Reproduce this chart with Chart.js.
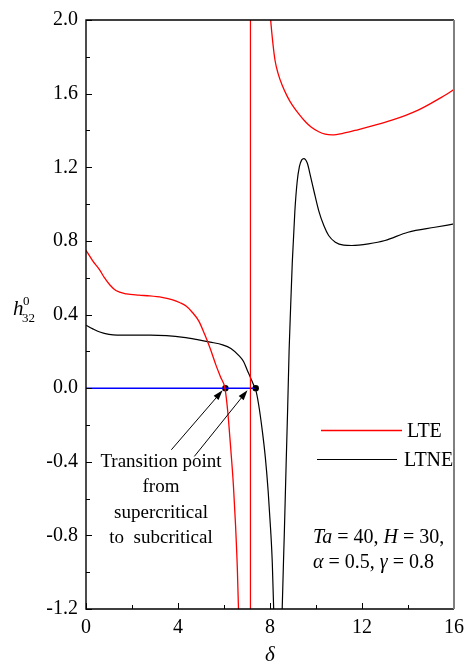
<!DOCTYPE html>
<html>
<head>
<meta charset="utf-8">
<script src="https://cdn.jsdelivr.net/npm/chart.js@4.4.0/dist/chart.umd.min.js"></script>
<style>
    html, body { margin: 0; padding: 0; background: #fff; }
    #wrap { width: 471px; height: 665px; position: relative; }
</style>
</head>
<body>
<div id="wrap"><canvas id="chart"></canvas></div>
<script>
// LTE, branch before the asymptote
const lteLowDelta = [0, 0.3, 0.6, 0.8, 1.04, 1.3, 1.76, 2.3, 2.77, 3.3, 3.77, 4.09, 4.35, 4.6, 4.9, 5.15, 5.4, 5.65, 5.85, 6.04, 6.12, 6.2, 6.3, 6.41, 6.5, 6.58, 6.63, 6.68];
const lteLowH = [0.749, 0.69, 0.641, 0.6, 0.56, 0.53, 0.512, 0.505, 0.501, 0.493, 0.48, 0.464, 0.446, 0.415, 0.365, 0.295, 0.215, 0.125, 0.06, 0.0, -0.075, -0.18, -0.34, -0.53, -0.74, -0.98, -1.2, -1.5];
// LTE, vertical jump
const lteJumpDelta = [7.15, 7.15];
const lteJumpH = [-1.4, 2.2];
// LTE, branch after the asymptote
const lteHighDelta = [7.98, 8.03, 8.12, 8.22, 8.35, 8.53, 8.75, 8.97, 9.25, 9.54, 9.8, 10.12, 10.4, 10.7, 11.2, 11.85, 12.6, 13.3, 13.9, 14.44, 14.9, 15.3, 15.7, 16];
const lteHighH = [2.1, 2.0, 1.88, 1.78, 1.71, 1.645, 1.585, 1.537, 1.49, 1.447, 1.417, 1.393, 1.38, 1.376, 1.385, 1.405, 1.43, 1.456, 1.482, 1.51, 1.54, 1.569, 1.598, 1.623];
// LTNE
const ltneDelta = [0, 0.3, 0.6, 1.0, 1.35, 2.0, 2.8, 3.5, 4.24, 4.9, 5.4, 5.94, 6.3, 6.66, 6.85, 7.02, 7.15, 7.27, 7.38, 7.5, 7.67, 7.8, 7.92, 8.03, 8.1, 8.16, 8.22, 8.34, 8.47, 8.53, 8.62, 8.7, 8.77, 8.83, 8.9, 8.97, 9.08, 9.18, 9.28, 9.38, 9.47, 9.62, 9.76, 9.91, 10.12, 10.34, 10.55, 10.84, 11.2, 11.56, 12.28, 13.0, 14.0, 15.17, 16];
const ltneH = [0.342, 0.322, 0.305, 0.292, 0.288, 0.288, 0.288, 0.285, 0.276, 0.262, 0.25, 0.235, 0.215, 0.175, 0.145, 0.095, 0.058, 0.022, -0.01, -0.085, -0.236, -0.38, -0.56, -0.774, -0.95, -1.2, -1.6, -2.2, -1.6, -1.2, -0.8, -0.42, -0.1, 0.2, 0.45, 0.686, 0.96, 1.12, 1.205, 1.24, 1.247, 1.223, 1.152, 1.071, 0.963, 0.883, 0.829, 0.793, 0.777, 0.775, 0.784, 0.802, 0.847, 0.874, 0.892];
// zero line up to the LTNE transition, and the two transition points
const zeroDelta = [0, 7.38];
const zeroH = [0, 0];
const transDelta = [6.06, 7.38];
const transH = [0, 0];

const xTicks = [0, 4, 8, 12, 16];
const yTicks = [-1.2, -0.8, -0.4, 0.0, 0.4, 0.8, 1.2, 1.6, 2.0];

function pts(xs, ys) {
    return xs.map((x, i) => ({ x: x, y: ys[i] }));
}

const serif = "'Liberation Serif', serif";

// arrows from the note to the transition points (data units)
const arrows = [
    { from: [3.71, -0.335], to: [5.94, -0.012] },
    { from: [4.71, -0.371], to: [7.02, -0.012] }
];

function drawArrow(ctx, x1, y1, x2, y2) {
    const ang = Math.atan2(y2 - y1, x2 - x1);
    const len = 10, half = 3.2;
    ctx.beginPath();
    ctx.moveTo(x1, y1);
    ctx.lineTo(x2 - Math.cos(ang) * len * 0.8, y2 - Math.sin(ang) * len * 0.8);
    ctx.stroke();
    ctx.beginPath();
    ctx.moveTo(x2, y2);
    ctx.lineTo(x2 - Math.cos(ang) * len - Math.sin(ang) * half, y2 - Math.sin(ang) * len + Math.cos(ang) * half);
    ctx.lineTo(x2 - Math.cos(ang) * len + Math.sin(ang) * half, y2 - Math.sin(ang) * len - Math.cos(ang) * half);
    ctx.closePath();
    ctx.fill();
}

function drawRuns(ctx, runs, x, y) {
    runs.forEach(r => {
        ctx.font = r[1] + ' 20px ' + serif;
        ctx.fillText(r[0], x, y);
        x += ctx.measureText(r[0]).width;
    });
}

const decorations = {
    id: 'decorations',
    afterDraw(chart) {
        const ctx = chart.ctx;
        const a = chart.chartArea;
        const xs = chart.scales.x, ys = chart.scales.y;
        ctx.save();
        ctx.strokeStyle = '#000';
        ctx.fillStyle = '#000';
        ctx.lineWidth = 1;

        // inward ticks
        xs.ticks.forEach(t => {
            const px = Math.round(xs.getPixelForValue(t.value)) + 0.5;
            const len = xTicks.includes(t.value) ? 6 : 4;
            ctx.beginPath();
            ctx.moveTo(px, a.bottom);
            ctx.lineTo(px, a.bottom - len);
            ctx.stroke();
        });
        ys.ticks.forEach(t => {
            const py = Math.round(ys.getPixelForValue(t.value)) + 0.5;
            const major = Math.round(t.value * 10) % 4 === 0;
            ctx.beginPath();
            ctx.moveTo(a.left, py);
            ctx.lineTo(a.left + (major ? 6 : 4), py);
            ctx.stroke();
        });

        // frame
        ctx.lineWidth = 1.4;
        ctx.beginPath();
        ctx.moveTo(a.right, a.top);
        ctx.lineTo(a.left, a.top);
        ctx.lineTo(a.left, a.bottom);
        ctx.lineTo(a.right, a.bottom);
        ctx.stroke();
        ctx.strokeStyle = '#808080';
        ctx.lineWidth = 2;
        ctx.beginPath();
        ctx.moveTo(a.right, a.top);
        ctx.lineTo(a.right, a.bottom);
        ctx.stroke();

        // arrows
        ctx.strokeStyle = '#000';
        ctx.lineWidth = 1;
        arrows.forEach(ar => {
            drawArrow(ctx,
                xs.getPixelForValue(ar.from[0]), ys.getPixelForValue(ar.from[1]),
                xs.getPixelForValue(ar.to[0]), ys.getPixelForValue(ar.to[1]));
        });

        // note text
        ctx.textAlign = 'center';
        ctx.textBaseline = 'alphabetic';
        ctx.font = '19px ' + serif;
        ['Transition point', 'from', 'supercritical', 'to  subcritical'].forEach((s, i) => {
            ctx.fillText(s, 161, 467 + i * 25.3);
        });

        // legend
        ctx.textAlign = 'left';
        ctx.font = '20px ' + serif;
        ctx.lineWidth = 1.3;
        ctx.strokeStyle = '#ff0000';
        ctx.beginPath();
        ctx.moveTo(321, 430.5);
        ctx.lineTo(402, 430.5);
        ctx.stroke();
        ctx.fillText('LTE', 407, 437);
        ctx.lineWidth = 1;
        ctx.strokeStyle = '#000';
        ctx.beginPath();
        ctx.moveTo(317, 459.5);
        ctx.lineTo(397, 459.5);
        ctx.stroke();
        ctx.fillText('LTNE', 404, 466);

        // parameters
        drawRuns(ctx, [['Ta', 'italic'], [' = 40, ', 'normal'], ['H', 'italic'], [' = 30,', 'normal']], 313, 543);
        drawRuns(ctx, [['\u03b1', 'italic'], [' = 0.5, ', 'normal'], ['\u03b3', 'italic'], [' = 0.8', 'normal']], 313, 568);

        // axis titles
        ctx.font = 'italic 21px ' + serif;
        ctx.fillText('h', 13, 315);
        ctx.font = '13px ' + serif;
        ctx.fillText('0', 23, 305);
        ctx.fillText('32', 22, 322);
        ctx.textAlign = 'center';
        ctx.font = 'italic 21px ' + serif;
        ctx.fillText('\u03b4', (a.left + a.right) / 2, 661);
        ctx.restore();
    }
};

new Chart(document.getElementById('chart'), {
    type: 'line',
    data: {
        datasets: [
            { label: 'LTE', data: pts(lteLowDelta, lteLowH), borderColor: '#ff0000', borderWidth: 1.3, cubicInterpolationMode: 'monotone' },
            { label: 'LTE jump', data: pts(lteJumpDelta, lteJumpH), borderColor: '#ff0000', borderWidth: 1.2, tension: 0 },
            { label: 'LTE high', data: pts(lteHighDelta, lteHighH), borderColor: '#ff0000', borderWidth: 1.3, cubicInterpolationMode: 'monotone' },
            { label: 'LTNE', data: pts(ltneDelta, ltneH), borderColor: '#000', borderWidth: 1.2, cubicInterpolationMode: 'monotone' },
            { label: 'zero', data: pts(zeroDelta, zeroH), borderColor: '#0000ff', borderWidth: 1.5, tension: 0 },
            { label: 'transition', data: pts(transDelta, transH), showLine: false, pointRadius: 3.2, pointBackgroundColor: '#000', pointBorderWidth: 0 }
        ]
    },
    options: {
        responsive: true,
        maintainAspectRatio: false,
        animation: false,
        elements: { point: { radius: 0 } },
        layout: { padding: { left: 0, top: 14, right: 15, bottom: 0 } },
        plugins: {
            legend: { display: false },
            tooltip: { enabled: false }
        },
        scales: {
            x: {
                type: 'linear',
                min: 0,
                max: 16,
                grid: { display: false, drawTicks: false },
                border: { display: false },
                afterFit: function(scale) { scale.height = 56; },
                ticks: {
                    stepSize: 2,
                    autoSkip: false,
                    maxRotation: 0,
                    padding: 7,
                    color: '#000',
                    font: { family: serif, size: 20 },
                    callback: v => xTicks.includes(v) ? String(v) : ''
                }
            },
            y: {
                type: 'linear',
                min: -1.2,
                max: 2.0,
                grid: { display: false, drawTicks: false },
                border: { display: false },
                afterFit: function(scale) { scale.width = 86; },
                ticks: {
                    stepSize: 0.2,
                    autoSkip: false,
                    padding: 8,
                    color: '#000',
                    font: { family: serif, size: 20 },
                    callback: function(v) {
                        const k = Math.round(v * 10);
                        return k % 4 === 0 ? (k / 10).toFixed(1) : '';
                    }
                }
            }
        }
    },
    plugins: [decorations]
});
</script>
</body>
</html>
